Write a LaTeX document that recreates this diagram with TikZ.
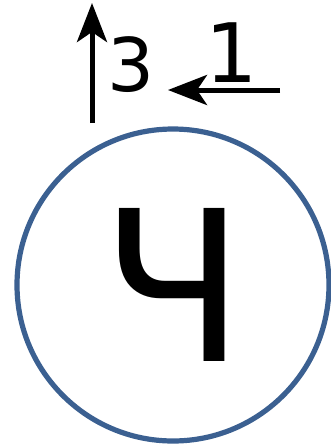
\documentclass[tikz,border=0pt]{standalone}
\usepackage{fontspec}
\setmainfont{DejaVu Sans}
\usetikzlibrary{arrows.meta}
\definecolor{CHblue}{RGB}{59,96,145}
\tikzset{
  letterring/.style={circle,draw=CHblue,line width=5.2pt,fill=white,inner sep=0pt,
                     minimum size=312pt,font=\fontsize{210}{210}\selectfont},
  digit/.style={inner sep=0pt,text=black},
  ar/.style={-{Stealth[length=39pt 0,width=30pt 0,inset=10pt 0]},line width=5pt,draw=black}
}
\begin{document}
\begin{tikzpicture}[x=1pt,y=-1pt]
  \useasboundingbox (0,0) rectangle (331,448);
  \node[letterring] (ch) at (173,285) {Ч};
  \node[digit,font=\fontsize{74}{74}\selectfont] (three) at (131,65) {3};
  \node[digit,font=\fontsize{82}{82}\selectfont] (one) at (232,53) {1};
  \coordinate (upfoot) at (92,123);
  \coordinate (uptip) at (92,3);
  \coordinate (leftfoot) at (280,90);
  \coordinate (lefttip) at (168,90);
  \draw[ar] (upfoot) -- (uptip);
  \draw[ar] (leftfoot) -- (lefttip);
\end{tikzpicture}
\end{document}
